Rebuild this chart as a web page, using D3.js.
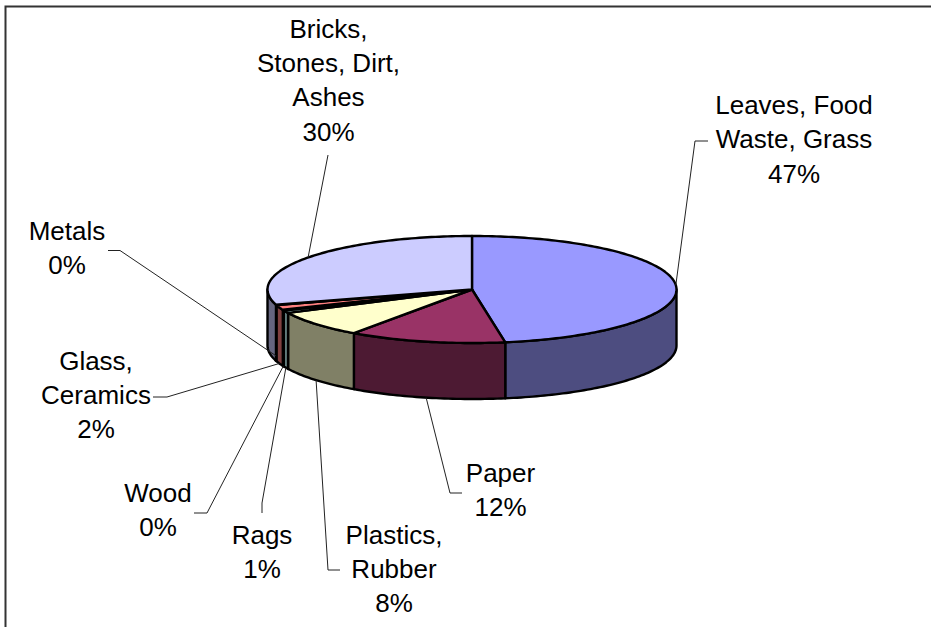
<!DOCTYPE html>
<html>
<head>
<meta charset="utf-8">
<script src="https://cdn.jsdelivr.net/npm/d3@7"></script>
<style>
  html, body { margin: 0; padding: 0; background: #fff; }
  svg { display: block; }
  text { font-family: "Liberation Sans", Arial, sans-serif; fill: #000; }
</style>
</head>
<body>
<svg id="chart" width="931" height="627"></svg>
<script>
// Composition of municipal waste, clockwise from twelve o'clock
const categories = ["Leaves, Food Waste, Grass", "Paper", "Plastics, Rubber", "Rags", "Wood", "Glass, Ceramics", "Metals", "Bricks, Stones, Dirt, Ashes"];
const shares = [47.4, 12.4, 8.0, 0.8, 0.2, 1.5, 0.1, 29.6];
const percentLabels = ["47%", "12%", "8%", "1%", "0%", "2%", "0%", "30%"];
const topColors = ["#9999FF", "#993366", "#FFFFCC", "#CCFFFF", "#660066", "#FF8080", "#0066CC", "#CCCCFF"];
const sideColors = ["#4D4D80", "#4D1A33", "#808066", "#668080", "#330033", "#804040", "#003366", "#666680"];

const svg = d3.select("#chart");

// Chart frame, open on the right where it runs off the page
svg.append("path")
  .attr("d", "M5.5,628V6.5H932")
  .attr("fill", "none").attr("stroke", "#333").attr("stroke-width", 2);

// Tilted disc: unit circle mapped onto the ellipse on screen
const cx = 472, cy = 289.5, rx = 204.5, ry = 53.5, depth = 56;
const sx = d3.scaleLinear().domain([-1, 1]).range([cx - rx, cx + rx]);
const sy = d3.scaleLinear().domain([-1, 1]).range([cy - ry, cy + ry]);
const onRim = (a, drop = 0) => [sx(Math.sin(a)), sy(-Math.cos(a)) + drop];

const slices = d3.pie().value(d => d).sort(null)(shares);
const path = d3.line();
const arcPoints = (a0, a1, drop = 0) => {
  const n = Math.max(1, Math.ceil((a1 - a0) / 0.02));
  return d3.range(n + 1).map(i => onRim(a0 + (a1 - a0) * i / n, drop));
};

const wallGroup = svg.append("g");
const topGroup = svg.append("g");
const strokeStyle = g => g.attr("stroke", "#000").attr("stroke-width", 2.4).attr("stroke-linejoin", "round");
strokeStyle(wallGroup); strokeStyle(topGroup);

// Outer wall: only the part of the rim that faces the viewer (a from 90deg to 270deg)
slices.forEach((s, i) => {
  const a0 = Math.max(s.startAngle, Math.PI / 2);
  const a1 = Math.min(s.endAngle, Math.PI * 1.5);
  if (a1 <= a0) return;
  const pts = arcPoints(a0, a1).concat(arcPoints(a0, a1, depth).reverse());
  wallGroup.append("path").attr("d", path(pts) + "Z").attr("fill", sideColors[i]);
});

// Upper faces of the slices
slices.forEach((s, i) => {
  const pts = [[cx, cy]].concat(arcPoints(s.startAngle, s.endAngle));
  topGroup.append("path").attr("d", path(pts) + "Z").attr("fill", topColors[i]);
});

// Label blocks: line breaks, text centre, first baseline
const labelLayout = [
  { lines: ["Leaves, Food", "Waste, Grass"], x: 794, y: 114 },
  { lines: ["Paper"], x: 500.5, y: 482 },
  { lines: ["Plastics,", "Rubber"], x: 394, y: 543.5 },
  { lines: ["Rags"], x: 262, y: 543.5 },
  { lines: ["Wood"], x: 158, y: 502 },
  { lines: ["Glass,", "Ceramics"], x: 96, y: 369.5 },
  { lines: ["Metals"], x: 67, y: 240 },
  { lines: ["Bricks,", "Stones, Dirt,", "Ashes"], x: 328.5, y: 37.5 }
];
const lineStep = 34.4;
const labels = svg.append("g").attr("font-size", 26).attr("text-anchor", "middle");
labelLayout.forEach((l, i) => {
  l.lines.concat(percentLabels[i]).forEach((t, k) => {
    labels.append("text").attr("x", l.x).attr("y", l.y + k * lineStep).text(t);
  });
});

// Leader lines run from the middle of each slice's rim to an elbow beside its label
const leaderRoutes = [
  { drop: 0, route: [[695, 141], [708, 141]] },
  { drop: depth, route: [[450, 493], [462, 493]] },
  { drop: depth, route: [[328, 570], [340, 570]] },
  { drop: depth, route: [[262, 503], [262, 513]] },
  { drop: depth, route: [[207, 513], [194, 513]] },
  { drop: depth, route: [[167, 397], [153, 397]] },
  { drop: depth - 5, route: [[120, 250.5], [108, 250.5]] },
  { drop: 0, route: [[328, 155]] }
];
const leaders = svg.append("g").attr("fill", "none").attr("stroke", "#222").attr("stroke-width", 1);
slices.forEach((s, i) => {
  const start = onRim((s.startAngle + s.endAngle) / 2, leaderRoutes[i].drop);
  leaders.append("path").attr("d", path([start].concat(leaderRoutes[i].route)));
});
</script>
</body>
</html>
